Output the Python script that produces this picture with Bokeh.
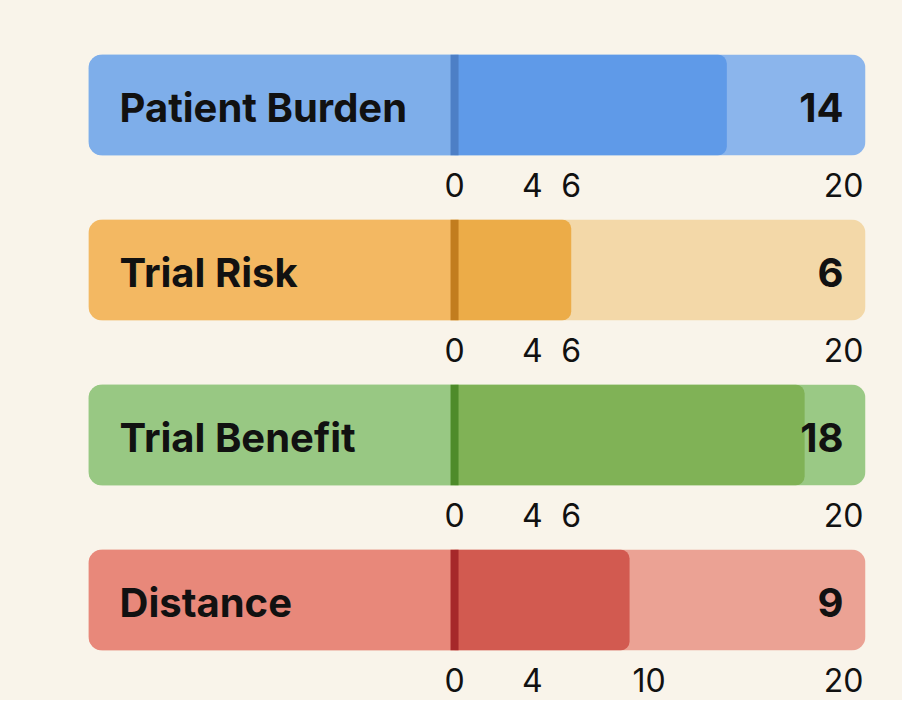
from bokeh.plotting import figure
from bokeh.layouts import column
from bokeh.models import Range1d, FixedTicker, Span
from bokeh.core.properties import value
from bokeh.embed import file_html
from bokeh.resources import INLINE

# data
labels = ["Patient Burden", "Trial Risk", "Trial Benefit", "Distance"]
scores = [14, 6, 18, 9]
tick_sets = [[0, 4, 6, 20], [0, 4, 6, 20], [0, 4, 6, 20], [0, 4, 10, 20]]

# colours per row: label area, filled part, rest of the bar, zero line
label_colors = ["#7eaeea", "#f3b862", "#98c883", "#e8887a"]
fill_colors = ["#5f9ae8", "#ecac48", "#80b256", "#d25a50"]
rest_colors = ["#8bb5ec", "#f3d8a8", "#9ac985", "#eba294"]
line_colors = ["#4d7fc6", "#c27d1e", "#4e8b2a", "#a6282a"]

BG = "#f9f4ea"
X_START, X_END = -18.82, 21.13
FONT = "Inter"

figs = []
for i, name in enumerate(labels):
    p = figure(frame_width=777, frame_height=101,
               min_border_left=88, min_border_right=37,
               min_border_top=54 if i == 0 else 14, min_border_bottom=50,
               x_range=Range1d(X_START, X_END), y_range=Range1d(0, 1),
               y_axis_location=None, toolbar_location=None,
               output_backend="svg")
    p.background_fill_color = BG
    p.border_fill_color = BG
    p.outline_line_color = None
    p.grid.visible = False

    p.quad(left=[X_START], right=[X_END], bottom=[0], top=[1],
           fill_color=rest_colors[i], line_color=None, border_radius=14)
    p.quad(left=[X_START], right=[0], bottom=[0], top=[1],
           fill_color=label_colors[i], line_color=None, border_radius=(14, 0, 0, 14))
    p.quad(left=[0], right=[scores[i]], bottom=[0], top=[1],
           fill_color=fill_colors[i], line_color=None, border_radius=(0, 9, 9, 0))
    p.add_layout(Span(location=0, dimension="height",
                      line_color=line_colors[i], line_width=8))

    p.text(x=[X_START], y=[0.5], text=[name], x_offset=31, y_offset=2,
           text_align="left", text_baseline="middle",
           text_font=value(FONT), text_font_style="bold",
           text_font_size="40px", text_color="#111111")
    p.text(x=[20], y=[0.5], text=[str(scores[i])], y_offset=2,
           text_align="right", text_baseline="middle",
           text_font=value(FONT), text_font_style="bold",
           text_font_size="40px", text_color="#111111")

    ax = p.xaxis[0]
    ax.ticker = FixedTicker(ticks=tick_sets[i])
    ax.axis_line_color = None
    ax.major_tick_line_color = None
    ax.minor_tick_line_color = None
    ax.major_tick_out = 0
    ax.major_label_standoff = 17
    ax.major_label_text_font = FONT
    ax.major_label_text_font_size = "32px"
    ax.major_label_text_color = "#111111"
    figs.append(p)

layout = column(*figs, spacing=0, styles={"background-color": BG})

open("out.html", "w").write(file_html(layout, INLINE))
